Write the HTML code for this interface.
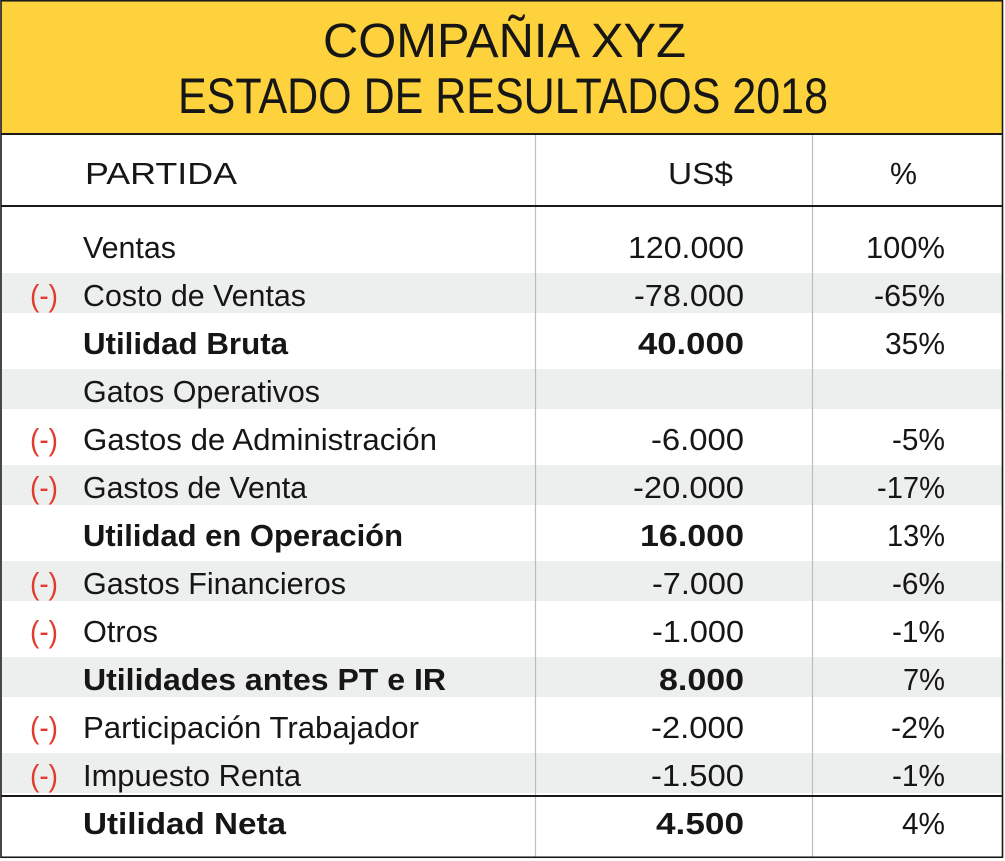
<!DOCTYPE html>
<html><head><meta charset="utf-8"><style>
html,body{margin:0;padding:0;background:#fff;}
svg{display:block;}
text{font-family:"Liberation Sans",Arial,sans-serif;fill:#161616;}
.b{font-weight:bold;}
.r{fill:#E23B2E;}
</style></head><body>
<svg width="1005" height="861" viewBox="0 0 1005 861" xmlns="http://www.w3.org/2000/svg">
<rect x="0" y="0" width="1005" height="861" fill="#fff"/>
<rect x="1" y="1" width="1001" height="132" fill="#FDD23C"/>
<!-- gray bands -->
<g fill="#EDEEEE">
<rect x="2" y="273" width="1000" height="40"/>
<rect x="2" y="369" width="1000" height="40"/>
<rect x="2" y="465" width="1000" height="40"/>
<rect x="2" y="561" width="1000" height="40"/>
<rect x="2" y="657" width="1000" height="40"/>
<rect x="2" y="753" width="1000" height="40"/>
</g>
<!-- dividers -->
<line x1="535.5" y1="134" x2="535.5" y2="857" stroke="#BDBDBD" stroke-width="1.2"/>
<line x1="812.5" y1="134" x2="812.5" y2="857" stroke="#BDBDBD" stroke-width="1.2"/>
<!-- horizontal rules -->
<rect x="1" y="133" width="1002" height="2" fill="#1a1a1a"/>
<rect x="1" y="205" width="1002" height="2" fill="#1a1a1a"/>
<rect x="1" y="795" width="1002" height="2" fill="#1a1a1a"/>
<!-- outer border -->
<rect x="1" y="0.75" width="1001.5" height="856.5" fill="none" stroke="#1a1a1a" stroke-width="1.6"/>

<!-- title -->
<text x="504.5" y="57" font-size="48" text-anchor="middle" textLength="363" lengthAdjust="spacingAndGlyphs">COMPAÑIA XYZ</text>
<text x="503" y="113" font-size="50" text-anchor="middle" textLength="650" lengthAdjust="spacingAndGlyphs">ESTADO DE RESULTADOS 2018</text>

<!-- header -->
<text x="85" y="184" font-size="31" textLength="152" lengthAdjust="spacingAndGlyphs">PARTIDA</text>
<text x="668" y="184" font-size="31" textLength="65" lengthAdjust="spacingAndGlyphs">US$</text>
<text x="890" y="184" font-size="31" textLength="27" lengthAdjust="spacingAndGlyphs">%</text>

<!-- labels -->
<g font-size="31">
<text x="83" y="258" textLength="93" lengthAdjust="spacingAndGlyphs">Ventas</text>
<text x="83" y="306" textLength="223" lengthAdjust="spacingAndGlyphs">Costo de Ventas</text>
<text class="b" x="83" y="354" textLength="205" lengthAdjust="spacingAndGlyphs">Utilidad Bruta</text>
<text x="83" y="402" textLength="237" lengthAdjust="spacingAndGlyphs">Gatos Operativos</text>
<text x="83" y="450" textLength="354" lengthAdjust="spacingAndGlyphs">Gastos de Administración</text>
<text x="83" y="498" textLength="224" lengthAdjust="spacingAndGlyphs">Gastos de Venta</text>
<text class="b" x="83" y="546" textLength="320" lengthAdjust="spacingAndGlyphs">Utilidad en Operación</text>
<text x="83" y="594" textLength="263" lengthAdjust="spacingAndGlyphs">Gastos Financieros</text>
<text x="83" y="642" textLength="75" lengthAdjust="spacingAndGlyphs">Otros</text>
<text class="b" x="83" y="690" textLength="363" lengthAdjust="spacingAndGlyphs">Utilidades antes PT e IR</text>
<text x="83" y="738" textLength="336" lengthAdjust="spacingAndGlyphs">Participación Trabajador</text>
<text x="83" y="786" textLength="218" lengthAdjust="spacingAndGlyphs">Impuesto Renta</text>
<text class="b" x="83" y="834" textLength="203" lengthAdjust="spacingAndGlyphs">Utilidad Neta</text>
</g>

<!-- (-) markers -->
<g font-size="31" class="r">
<text class="r" x="30" y="306" textLength="28" lengthAdjust="spacingAndGlyphs">(-)</text>
<text class="r" x="30" y="450" textLength="28" lengthAdjust="spacingAndGlyphs">(-)</text>
<text class="r" x="30" y="498" textLength="28" lengthAdjust="spacingAndGlyphs">(-)</text>
<text class="r" x="30" y="594" textLength="28" lengthAdjust="spacingAndGlyphs">(-)</text>
<text class="r" x="30" y="642" textLength="28" lengthAdjust="spacingAndGlyphs">(-)</text>
<text class="r" x="30" y="738" textLength="28" lengthAdjust="spacingAndGlyphs">(-)</text>
<text class="r" x="30" y="786" textLength="28" lengthAdjust="spacingAndGlyphs">(-)</text>
</g>

<!-- values -->
<g font-size="31" text-anchor="end">
<text x="744" y="258" textLength="116" lengthAdjust="spacingAndGlyphs">120.000</text>
<text x="744" y="306" textLength="110" lengthAdjust="spacingAndGlyphs">-78.000</text>
<text class="b" x="744" y="354" textLength="106" lengthAdjust="spacingAndGlyphs">40.000</text>
<text x="744" y="450" textLength="93" lengthAdjust="spacingAndGlyphs">-6.000</text>
<text x="744" y="498" textLength="111" lengthAdjust="spacingAndGlyphs">-20.000</text>
<text class="b" x="744" y="546" textLength="104" lengthAdjust="spacingAndGlyphs">16.000</text>
<text x="744" y="594" textLength="92" lengthAdjust="spacingAndGlyphs">-7.000</text>
<text x="744" y="642" textLength="92" lengthAdjust="spacingAndGlyphs">-1.000</text>
<text class="b" x="744" y="690" textLength="85" lengthAdjust="spacingAndGlyphs">8.000</text>
<text x="744" y="738" textLength="93" lengthAdjust="spacingAndGlyphs">-2.000</text>
<text x="744" y="786" textLength="93" lengthAdjust="spacingAndGlyphs">-1.500</text>
<text class="b" x="744" y="834" textLength="88" lengthAdjust="spacingAndGlyphs">4.500</text>
</g>

<!-- percents -->
<g font-size="31" text-anchor="end">
<text x="945" y="258" textLength="79" lengthAdjust="spacingAndGlyphs">100%</text>
<text x="945" y="306" textLength="71" lengthAdjust="spacingAndGlyphs">-65%</text>
<text x="945" y="354" textLength="60" lengthAdjust="spacingAndGlyphs">35%</text>
<text x="945" y="450" textLength="53" lengthAdjust="spacingAndGlyphs">-5%</text>
<text x="945" y="498" textLength="68" lengthAdjust="spacingAndGlyphs">-17%</text>
<text x="945" y="546" textLength="58" lengthAdjust="spacingAndGlyphs">13%</text>
<text x="945" y="594" textLength="53" lengthAdjust="spacingAndGlyphs">-6%</text>
<text x="945" y="642" textLength="53" lengthAdjust="spacingAndGlyphs">-1%</text>
<text x="945" y="690" textLength="42" lengthAdjust="spacingAndGlyphs">7%</text>
<text x="945" y="738" textLength="54" lengthAdjust="spacingAndGlyphs">-2%</text>
<text x="945" y="786" textLength="53" lengthAdjust="spacingAndGlyphs">-1%</text>
<text x="945" y="834" textLength="43" lengthAdjust="spacingAndGlyphs">4%</text>
</g>
</svg>
</body></html>
